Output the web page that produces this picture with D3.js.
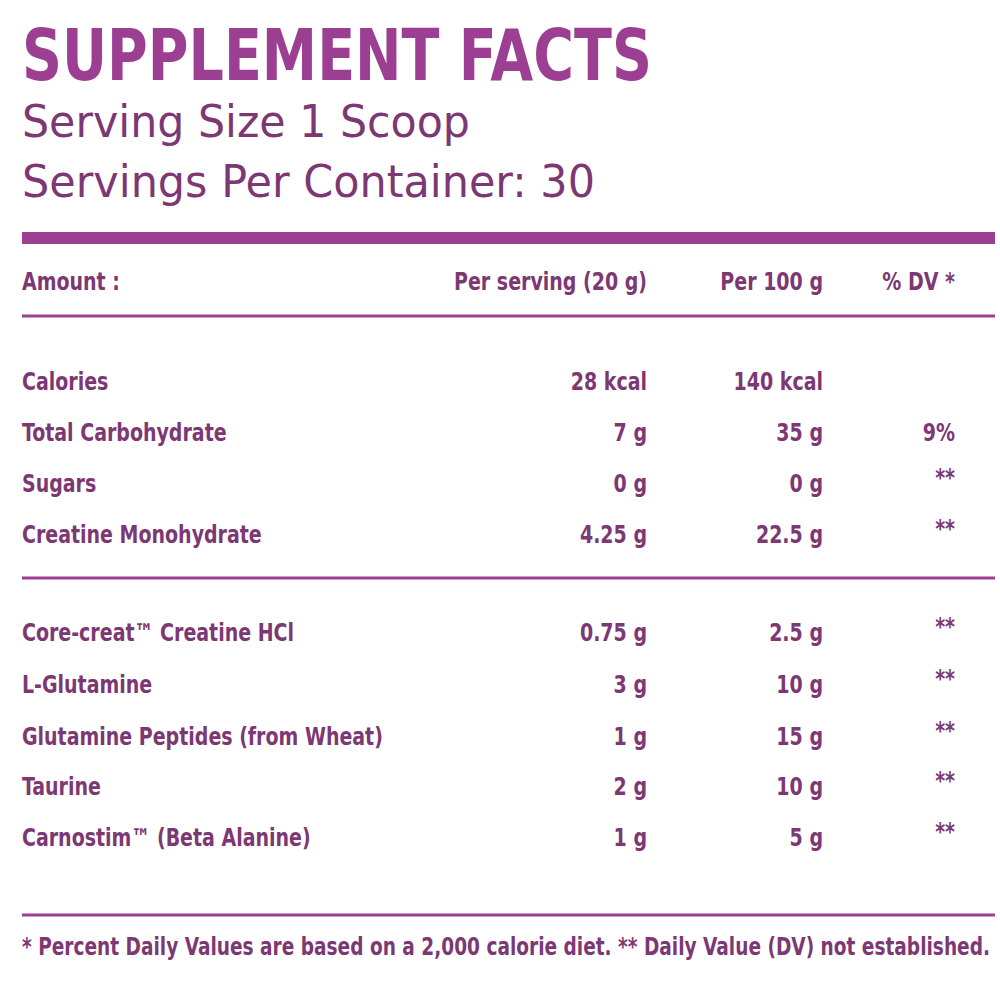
<!DOCTYPE html><html><head><meta charset="utf-8"><script src="https://cdn.jsdelivr.net/npm/d3@7"></script>
<style>body{margin:0;background:#fff}</style></head><body><script>
const nutrients=["Calories","Total Carbohydrate","Sugars","Creatine Monohydrate","Core-creat\u2122 Creatine HCl","L-Glutamine","Glutamine Peptides (from Wheat)","Taurine","Carnostim\u2122 (Beta Alanine)"];
const perServing=["28 kcal","7 g","0 g","4.25 g","0.75 g","3 g","1 g","2 g","1 g"];
const per100g=["140 kcal","35 g","0 g","22.5 g","2.5 g","10 g","15 g","10 g","5 g"];
const dv=["","9%","**","**","**","**","**","**","**"];
const headers=["Amount :","Per serving (20 g)","Per 100 g","% DV *"];
const rowY=[390,441,492,543,641,693,745,795,846];
const F="'DejaVu Sans Condensed','Liberation Sans Narrow',sans-serif";
const txt="#7d3874",acc="#9c3f92";
const svg=d3.select("body").append("svg").attr("width",1000).attr("height",1000);
function t(x,y,s,o){const e=svg.append("text").attr("x",x).attr("y",y).text(s).attr("font-family",o.f||F).attr("font-size",o.fs).attr("fill",o.c||txt).attr("font-weight",o.w||"normal").attr("text-anchor",o.a||"start");if(o.tl)e.attr("textLength",o.tl).attr("lengthAdjust","spacingAndGlyphs");if(o.sx){e.attr("transform",`translate(${x},0) scale(${o.sx},1) translate(${-x},0)`);}return e;}
t(22,80,"SUPPLEMENT FACTS",{fs:72,w:"bold",c:acc,tl:630,f:"'DejaVu Sans',sans-serif"});
t(22,137,"Serving Size 1 Scoop",{fs:44,tl:448,f:"'DejaVu Sans',sans-serif"});
t(22,197,"Servings Per Container: 30",{fs:44,tl:573,f:"'DejaVu Sans',sans-serif"});
function line(y,h){svg.append("rect").attr("x",22).attr("y",y-h/2).attr("width",973).attr("height",h).attr("fill",acc);}
line(238,12);line(316,3);line(578,3);line(915,3);
const cols=[22,647,823,955];
headers.forEach((h,i)=>t(cols[i],290,h,{fs:24,w:"bold",a:i?"end":"start",sx:0.88}));
nutrients.forEach((n,i)=>{const y=rowY[i];
 t(22,y,n,{fs:24,w:"bold",sx:0.88});
 t(647,y,perServing[i],{fs:24,w:"bold",a:"end",sx:0.88});
 t(823,y,per100g[i],{fs:24,w:"bold",a:"end",sx:0.88});
 if(dv[i])t(955,y-(dv[i]=="**"?6:0),dv[i],{fs:24,w:"bold",a:"end",sx:0.88});
});
t(22,955,"* Percent Daily Values are based on a 2,000 calorie diet. ** Daily Value (DV) not established.",{fs:24,w:"bold",tl:968});
</script></body></html>
